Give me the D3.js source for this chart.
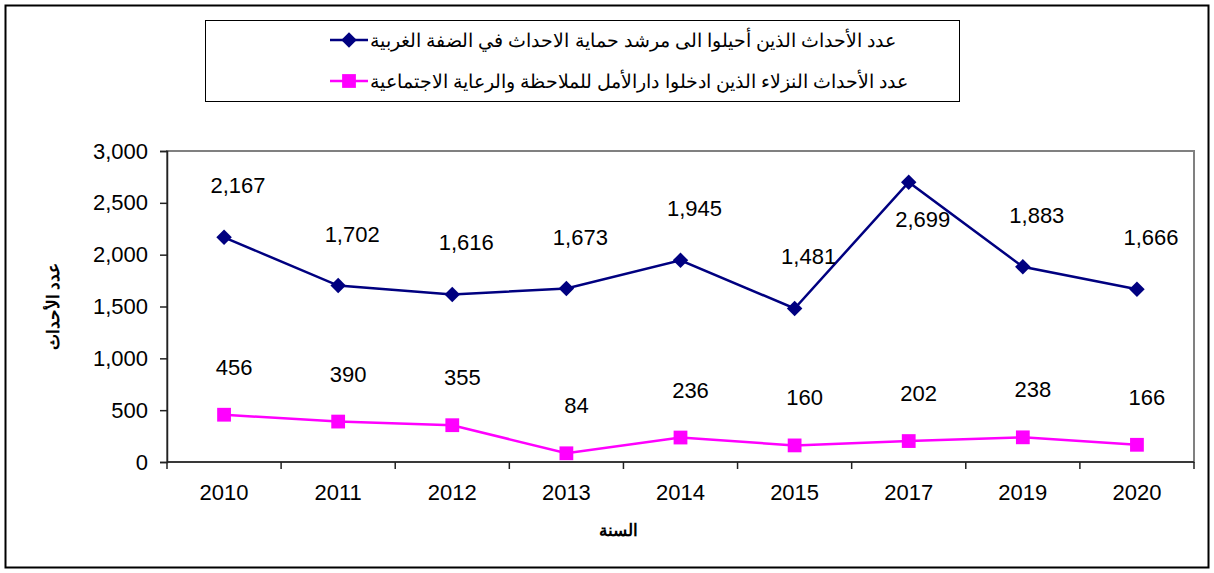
<!DOCTYPE html>
<html>
<head>
<meta charset="utf-8">
<script src="https://cdn.jsdelivr.net/npm/d3@7"></script>
<style>
  body { margin: 0; background: #fff; }
  svg { display: block; font-family: "Liberation Sans", Arial, sans-serif; }
</style>
</head>
<body>
<div id="chart"></div>
<script>
// chart values
const years = ["2010", "2011", "2012", "2013", "2014", "2015", "2017", "2019", "2020"];
const referred = [2167, 1702, 1616, 1673, 1945, 1481, 2699, 1883, 1666];
const admitted = [456, 390, 355, 84, 236, 160, 202, 238, 166];
const yTicks = [0, 500, 1000, 1500, 2000, 2500, 3000];
const seriesNames = [
  "عدد الأحداث الذين أحيلوا الى مرشد حماية الاحداث في الضفة الغربية",
  "عدد الأحداث النزلاء الذين ادخلوا دارالأمل للملاحظة والرعاية الاجتماعية"
];
const yTitle = "عدد الأحداث";
const xTitle = "السنة";

const W = 1214, H = 573;
const margin = {left: 167, right: 20, top: 151, bottom: 111};

const svg = d3.select("#chart").append("svg")
    .attr("width", W)
    .attr("height", H);

// outer frame
svg.append("rect")
    .attr("x", 5.5).attr("y", 5.5)
    .attr("width", W - 11).attr("height", H - 11)
    .attr("fill", "none").attr("stroke", "#000").attr("stroke-width", 2);

const x = d3.scaleBand()
    .domain(years)
    .range([margin.left, W - margin.right]);

const y = d3.scaleLinear()
    .domain([0, 3000])
    .range([H - margin.bottom, margin.top]);

// plot area border
svg.append("rect")
    .attr("x", margin.left).attr("y", margin.top)
    .attr("width", W - margin.right - margin.left)
    .attr("height", H - margin.bottom - margin.top)
    .attr("fill", "none").attr("stroke", "#808080").attr("stroke-width", 2);

// y axis
const yAxis = svg.append("g")
    .attr("transform", `translate(${margin.left},0)`)
    .call(d3.axisLeft(y).tickValues(yTicks).tickSize(7).tickPadding(12).tickFormat(d3.format(",")));
yAxis.select(".domain").attr("stroke", "#222").attr("stroke-width", 1.5);
yAxis.selectAll(".tick line").attr("stroke", "#222").attr("stroke-width", 1.5);
yAxis.selectAll("text").attr("font-size", 22).attr("fill", "#000");

// x axis: ticks sit between categories
const xAxis = svg.append("g")
    .attr("transform", `translate(0,${H - margin.bottom})`);
xAxis.append("line")
    .attr("x1", margin.left).attr("x2", W - margin.right)
    .attr("stroke", "#222").attr("stroke-width", 1.5);
const bounds = years.map(d => x(d)).concat([x(years[years.length - 1]) + x.bandwidth()]);
xAxis.selectAll("line.tk")
    .data(bounds)
    .enter().append("line")
    .attr("class", "tk")
    .attr("x1", d => d).attr("x2", d => d)
    .attr("y1", 0).attr("y2", 7)
    .attr("stroke", "#222").attr("stroke-width", 1.5);
xAxis.selectAll("text")
    .data(years)
    .enter().append("text")
    .attr("x", d => x(d) + x.bandwidth() / 2)
    .attr("y", 38)
    .attr("text-anchor", "middle")
    .attr("font-size", 22)
    .text(d => d);

// axis titles
svg.append("text")
    .attr("transform", `translate(59,${(margin.top + H - margin.bottom) / 2}) rotate(-90)`)
    .attr("text-anchor", "middle")
    .attr("font-size", 17)
    .attr("font-weight", "bold")
    .text(yTitle);
svg.append("text")
    .attr("x", 618).attr("y", 536)
    .attr("text-anchor", "middle")
    .attr("font-size", 17)
    .attr("font-weight", "bold")
    .text(xTitle);

const cx = d => x(d) + x.bandwidth() / 2;
const line = d3.line()
    .x((d, i) => cx(years[i]))
    .y(d => y(d));

// diamond drawn as a square turned 45 degrees
const diamond = d3.symbol().type(d3.symbolSquare).size(120);
const square = d3.symbol().type(d3.symbolSquare).size(190);

const series = [
  {values: referred, color: "#000080", marker: diamond, rot: 45, labelDy: -44, labelDx: 14},
  {values: admitted, color: "#FF00FF", marker: square, rot: 0, labelDy: -40, labelDx: 10}
];

series.forEach(s => {
  svg.append("path")
      .datum(s.values)
      .attr("d", line)
      .attr("fill", "none")
      .attr("stroke", s.color)
      .attr("stroke-width", 2.5);

  svg.selectAll(null)
      .data(s.values)
      .enter().append("path")
      .attr("d", s.marker)
      .attr("transform", (d, i) => `translate(${cx(years[i])},${y(d)}) rotate(${s.rot})`)
      .attr("fill", s.color);

  svg.selectAll(null)
      .data(s.values)
      .enter().append("text")
      .attr("x", (d, i) => cx(years[i]) + s.labelDx)
      // the 2017 peak label sits below its point
      .attr("y", d => d > 2500 ? y(d) + 45 : y(d) + s.labelDy)
      .attr("text-anchor", "middle")
      .attr("font-size", 22)
      .text(d => d3.format(",")(d));
});

// legend
const legend = svg.append("g");
legend.append("rect")
    .attr("x", 205.5).attr("y", 20.5)
    .attr("width", 754).attr("height", 81)
    .attr("fill", "#fff").attr("stroke", "#000").attr("stroke-width", 1);

series.forEach((s, i) => {
  const ly = 40 + i * 41;
  legend.append("line")
      .attr("x1", 330).attr("x2", 368)
      .attr("y1", ly).attr("y2", ly)
      .attr("stroke", s.color).attr("stroke-width", 2.5);
  legend.append("path")
      .attr("d", s.marker)
      .attr("transform", `translate(349,${ly}) rotate(${s.rot})`)
      .attr("fill", s.color);
  legend.append("text")
      .attr("x", 370).attr("y", ly + 7)
      .attr("text-anchor", "start")
      .attr("font-size", 18.5)
      .attr("direction", "ltr")
      .text(seriesNames[i]);
});
</script>
</body>
</html>
